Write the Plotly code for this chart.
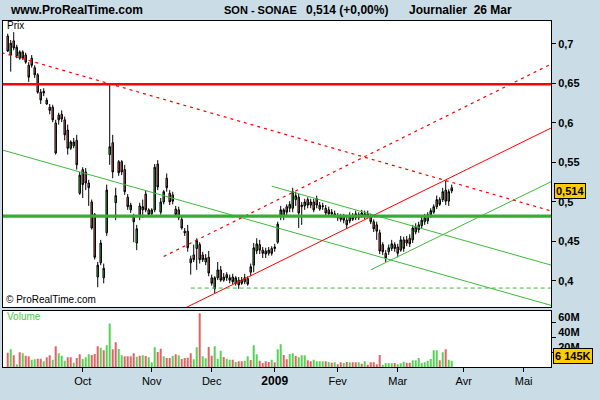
import plotly.graph_objects as go
import pandas as pd

# ---------------- data ----------------
trading_holidays = ["2008-12-25", "2008-12-26", "2009-01-01",
                    "2009-04-10", "2009-04-13", "2009-05-01"]
dates = pd.bdate_range("2008-08-27", "2009-03-26", freq="C", holidays=trading_holidays)

opens = [
    .710, .686, .704, .685, .682, .690, .686, .673, .682, .670,
    .661, .639, .640, .624, .620, .620, .600, .610, .611, .604,
    .591, .568, .571, .578, .511, .541, .538, .524, .500, .484,
    .405, .423, .404, .461, .560, .575, .499, .551, .551, .541,
    .506, .490, .481, .448, .495, .490, .510, .490, .485, .490,
    .548, .487, .500, .530, .511, .509, .491, .490, .478, .463,
    .463, .428, .433, .441, .446, .433, .424, .430, .404, .390,
    .404, .414, .401, .408, .401, .405, .397, .401, .401, .399,
    .403, .411, .420, .438, .446, .439, .438, .435, .441, .441,
    .449, .481, .482, .494, .492, .492, .503, .506, .494, .495,
    .503, .496, .500, .504, .491, .494, .492, .490, .487, .485,
    .482, .478, .481, .477, .476, .481, .480, .484, .482, .485,
    .482, .481, .475, .471, .461, .446, .435, .437, .441, .446,
    .443, .439, .452, .448, .454, .452, .462, .471, .470, .475,
    .476, .484, .487, .494, .503, .503, .515, .501, .518]
highs = [
    .713, .705, .715, .699, .692, .692, .689, .677, .686, .673,
    .663, .643, .644, .632, .624, .623, .604, .613, .616, .608,
    .598, .578, .581, .585, .538, .544, .543, .528, .503, .486,
    .424, .452, .422, .522, .648, .585, .518, .553, .553, .547,
    .510, .499, .485, .471, .499, .503, .515, .492, .492, .548,
    .553, .505, .515, .536, .515, .513, .495, .494, .482, .467,
    .471, .432, .446, .454, .449, .437, .434, .438, .408, .406,
    .424, .419, .410, .411, .408, .409, .406, .405, .405, .409,
    .406, .422, .448, .454, .452, .443, .442, .443, .444, .447,
    .475, .495, .492, .497, .501, .518, .513, .510, .500, .504,
    .506, .504, .504, .508, .500, .499, .496, .494, .491, .489,
    .486, .485, .485, .481, .487, .486, .489, .487, .490, .489,
    .489, .485, .478, .475, .465, .449, .439, .446, .452, .449,
    .447, .457, .456, .457, .459, .471, .473, .475, .482, .485,
    .487, .492, .497, .508, .506, .518, .527, .516, .522]
lows = [
    .690, .665, .692, .682, .680, .680, .675, .652, .670, .657,
    .637, .624, .634, .623, .611, .601, .560, .598, .601, .578,
    .560, .566, .568, .541, .509, .505, .515, .495, .465, .427,
    .392, .420, .397, .457, .547, .530, .477, .533, .534, .509,
    .490, .486, .449, .439, .477, .480, .487, .481, .482, .487,
    .515, .484, .497, .513, .496, .497, .481, .477, .465, .457,
    .437, .408, .424, .414, .422, .424, .420, .406, .394, .384,
    .401, .399, .399, .400, .397, .396, .394, .390, .395, .396,
    .394, .406, .411, .434, .434, .429, .429, .432, .432, .437,
    .447, .477, .477, .482, .487, .487, .495, .467, .471, .490,
    .492, .492, .487, .492, .489, .490, .482, .481, .481, .480,
    .476, .475, .473, .466, .473, .476, .477, .477, .480, .478,
    .480, .472, .462, .452, .434, .433, .424, .433, .438, .437,
    .430, .437, .437, .444, .443, .448, .459, .461, .466, .471,
    .472, .480, .485, .491, .495, .500, .496, .495, .511]
closes = [
    .691, .701, .695, .696, .690, .682, .677, .658, .673, .661,
    .639, .629, .638, .629, .616, .604, .562, .604, .605, .585,
    .568, .576, .576, .547, .534, .522, .524, .518, .467, .430,
    .420, .448, .416, .515, .570, .538, .508, .537, .538, .513,
    .494, .496, .475, .466, .481, .494, .490, .484, .490, .544,
    .519, .500, .513, .518, .500, .501, .484, .480, .467, .461,
    .442, .423, .427, .451, .427, .427, .429, .410, .397, .404,
    .414, .401, .405, .404, .404, .399, .404, .395, .397, .404,
    .396, .418, .442, .447, .439, .435, .434, .439, .435, .443,
    .472, .490, .490, .487, .497, .513, .508, .486, .496, .500,
    .496, .500, .490, .496, .496, .495, .486, .485, .485, .482,
    .480, .481, .477, .471, .482, .478, .485, .480, .486, .482,
    .485, .475, .466, .463, .438, .437, .429, .442, .447, .441,
    .435, .452, .441, .452, .447, .467, .468, .465, .477, .480,
    .484, .489, .494, .503, .497, .513, .501, .513, .514]

# volume in millions of shares, and direction (G = up, R = down)
volumes = [
    19.1, 23.6, 15.6, 3.6, 19.6, 18.2, 15.1, 14.2, 9.8, 10.2,
    11.1, 11.1, 7.6, 12.9, 15.6, 9.8, 27.6, 18.2, 15.1, 8.4,
    12.9, 12.9, 5.8, 12.0, 16.9, 10.7, 12.9, 16.9, 16.0, 17.3,
    27.6, 25.8, 22.2, 28.9, 58.2, 23.6, 32.9, 24.0, 15.6, 14.2,
    14.2, 14.2, 18.2, 13.8, 15.1, 15.6, 14.7, 12.9, 6.2, 26.2,
    20.0, 24.4, 14.2, 12.0, 12.0, 15.1, 16.9, 15.6, 10.7, 12.0,
    12.4, 18.2, 10.2, 26.2, 71.6, 14.2, 11.6, 26.7, 15.1, 27.6,
    11.1, 21.8, 13.3, 11.1, 9.8, 9.8, 6.7, 7.6, 7.6, 8.4,
    14.2, 9.3, 28.9, 16.9, 8.4, 5.3, 7.6, 6.7, 9.8, 6.2,
    23.6, 30.2, 16.0, 10.2, 17.3, 18.2, 14.7, 12.9, 15.6, 15.6,
    8.9, 7.6, 9.8, 7.6, 7.6, 7.6, 7.6, 6.7, 5.8, 6.2,
    3.6, 6.2, 5.3, 6.7, 6.2, 6.2, 6.2, 6.2, 4.4, 7.6,
    3.1, 6.2, 6.2, 3.6, 16.0, 3.1, 4.9, 5.3, 4.9, 5.3,
    3.6, 4.9, 7.1, 5.8, 5.8, 8.9, 8.9, 12.0, 5.3, 6.2,
    8.4, 10.7, 22.2, 22.2, 8.9, 19.6, 23.6, 9.8, 8.4]
volume_dir = list(
    "RGRGRGRRGG" "RRGRRGRGGG" "RRGRRGGGRR" "RGRGGRRGGR" "RRRGRGRGGG"
    "RRGRRGRGRR" "RRGGRGGRRG" "GGRGGRGRRG" "GRGGRRRRGR" "GGRRGGRGGG"
    "RRGGGGRGRG" "RRGRGRRGRG" "RRRRRGGGGR" "GGGRRGGGGG" "GGGGRGRGG")
last_volume_text = "6 145K"

# trend lines drawn on the chart: (dates, prices)
trend_red_thick = (["2008-08-25", "2009-05-18"], [0.649, 0.649])
trend_green_thick = (["2008-08-25", "2009-05-18"], [0.482, 0.482])
trend_red_dash_down = (["2008-08-25", "2009-05-18"], [0.689, 0.4855])
trend_red_dash_up = (["2008-11-07", "2009-05-18"], [0.431, 0.680])
trend_red_up = (["2008-11-18", "2009-05-18"], [0.3655, 0.599])
trend_green_dash_flat = (["2008-11-20", "2009-05-18"], [0.391, 0.391])
trend_green_down_long = (["2008-08-25", "2009-05-18"], [0.566, 0.366])
trend_green_down_short = (["2008-12-31", "2009-05-18"], [0.520, 0.417])
trend_green_up = (["2009-02-17", "2009-05-18"], [0.414, 0.531])

price_ticks = [0.4, 0.45, 0.5, 0.55, 0.6, 0.65, 0.7]
price_tick_text = ["0,4", "0,45", "0,5", "0,55", "0,6", "0,65", "0,7"]
volume_ticks = [20, 40, 60]
volume_tick_text = ["20M", "40M", "60M"]
month_ticks = ["2008-10-01", "2008-11-03", "2008-12-01", "2009-01-02",
               "2009-02-02", "2009-03-02", "2009-04-01", "2009-05-04"]
month_labels = ["Oct", "Nov", "Dec",
                "<span style='font-size:12px'><b>2009</b></span>",
                "Fev", "Mar", "Avr", "Mai"]

# ---------------- style ----------------
BG = "#CADCE6"
CANDLE_UP = "#3DB93D"
CANDLE_DOWN = "#DE6464"
VOL_UP = "#55D355"
VOL_DOWN = "#E06464"
RED = "#FF0000"
GREEN_THICK = "#36AD36"
GREEN_THIN = "#3CB83C"
FONT = "Liberation Sans, Arial, sans-serif"

W, H = 600, 400
M_L, M_R, M_T, M_B = 3, 49, 21, 33
PW, PH = W - M_L - M_R, H - M_T - M_B


def px_x(x):
    return (x - M_L) / PW


def px_y(y):
    return (H - M_B - y) / PH


fig = go.Figure()

fig.add_trace(go.Candlestick(
    x=dates, open=opens, high=highs, low=lows, close=closes,
    xaxis="x", yaxis="y", whiskerwidth=0,
    increasing=dict(fillcolor=CANDLE_UP, line=dict(color="black", width=1)),
    decreasing=dict(fillcolor=CANDLE_DOWN, line=dict(color="black", width=1)),
    showlegend=False, hoverinfo="skip"))


def add_line(tl, color, width, dash="solid"):
    fig.add_trace(go.Scatter(x=tl[0], y=tl[1], mode="lines", xaxis="x", yaxis="y",
                             line=dict(color=color, width=width, dash=dash),
                             showlegend=False, hoverinfo="skip"))


add_line(trend_green_down_long, GREEN_THIN, 1)
add_line(trend_green_down_short, GREEN_THIN, 1)
add_line(trend_green_up, GREEN_THIN, 1)
add_line(trend_green_dash_flat, GREEN_THIN, 1, "4px,3px")
add_line(trend_red_dash_down, RED, 1.2, "3px,4px")
add_line(trend_red_dash_up, RED, 1.2, "3px,4px")
add_line(trend_red_up, RED, 1)
add_line(trend_red_thick, RED, 2.5)
add_line(trend_green_thick, GREEN_THICK, 3.2)

fig.add_trace(go.Bar(
    x=dates, y=volumes, xaxis="x2", yaxis="y2",
    marker=dict(color=[VOL_UP if d == "G" else VOL_DOWN for d in volume_dir], line=dict(width=0)),
    showlegend=False, hoverinfo="skip"))

xbreaks = [dict(bounds=["sat", "mon"]), dict(values=trading_holidays)]
x_range = ["2008-08-25 10:19", "2009-05-15 02:24"]
axis_common = dict(showline=True, mirror=True, linecolor="black", linewidth=1,
                   showgrid=False, zeroline=False)
ytick_font = dict(family=FONT, size=11, color="black", weight="bold")

fig.update_layout(
    width=W, height=H, margin=dict(l=M_L, r=M_R, t=M_T, b=M_B),
    paper_bgcolor=BG, plot_bgcolor="white", showlegend=False,
    bargap=0.33, hovermode=False,
    xaxis=dict(domain=[0, 1], anchor="y", range=x_range, rangebreaks=xbreaks,
               rangeslider=dict(visible=False), showticklabels=False, ticks="",
               **axis_common),
    yaxis=dict(domain=[0.172, 1], anchor="x", side="right", range=[0.3664, 0.7291],
               tickvals=price_ticks, ticktext=price_tick_text, ticks="outside",
               ticklen=4, tickcolor="black", tickfont=ytick_font, **axis_common),
    xaxis2=dict(domain=[0, 1], anchor="y2", matches="x", range=x_range, rangebreaks=xbreaks,
                tickvals=month_ticks, ticktext=month_labels, ticks="outside",
                ticklen=4, tickcolor="black",
                tickfont=dict(family=FONT, size=11, color="black"), **axis_common),
    yaxis2=dict(domain=[0, 0.1627], anchor="x2", side="right", range=[0, 75.1],
                tickvals=volume_ticks, ticktext=volume_tick_text, ticks="outside",
                ticklen=4, tickcolor="black", tickfont=ytick_font,
                ticklabelshift=-5, **axis_common),
)


def note(text, x, y, size=12, bold=False, color="black", **kw):
    fig.add_annotation(text=text, xref="paper", yref="paper", x=px_x(x), y=px_y(y),
                       xanchor="left", yanchor="middle", showarrow=False,
                       font=dict(family=FONT, size=size, color=color,
                                 weight="bold" if bold else "normal"), **kw)


note("www.ProRealTime.com", 8, 10, 12, True)
note("SON - SONAE", 222, 10, 11, True)
note("0,514 (+0,00%)", 304, 10, 12, True)
note("Journalier\u00a0 26 Mar", 407, 10, 12, True)
note("Prix", 5, 25.5, 10)
note("\u00a9 ProRealTime.com", 4, 299.5, 10)
note("Volume", 5, 316.5, 10, color="#44CC44")

last_text = f"{closes[-1]:.3f}".replace(".", ",")
fig.add_annotation(text=f"<b>{last_text}</b>", xref="paper", yref="y", x=1, y=closes[-1],
                   xanchor="left", yanchor="middle", xshift=3, showarrow=False,
                   bgcolor="#FFCC00", bordercolor="black", borderwidth=1, borderpad=1,
                   font=dict(family=FONT, size=11, color="black"))
fig.add_annotation(text=f"<b>{last_volume_text}</b>", xref="paper", yref="paper", x=1,
                   y=px_y(355.7), xanchor="left", yanchor="middle", xshift=2, showarrow=False,
                   bgcolor="#FFCC00", bordercolor="black", borderwidth=1, borderpad=1,
                   font=dict(family=FONT, size=11, color="black"))

fig.write_html("out.html", config={"displayModeBar": False},
               post_script="document.body.style.margin='0';document.body.style.overflow='hidden';")
